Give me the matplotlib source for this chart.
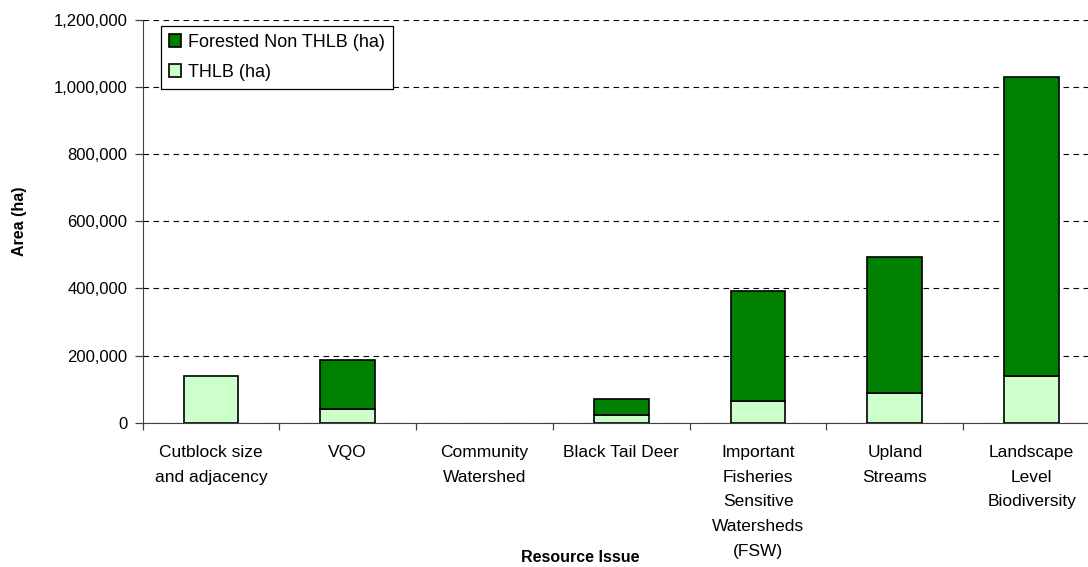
import matplotlib
matplotlib.use("Agg")
import matplotlib.pyplot as plt
import matplotlib.ticker as mticker
import matplotlib.transforms as mtransforms
from matplotlib.patches import Patch
import numpy as np

plt.rcParams["font.family"] = ["Liberation Sans", "DejaVu Sans"]

categories = [
    "Cutblock size\nand adjacency",
    "VQO",
    "Community\nWatershed",
    "Black Tail Deer",
    "Important\nFisheries\nSensitive\nWatersheds\n(FSW)",
    "Upland\nStreams",
    "Landscape\nLevel\nBiodiversity",
]
thlb = [140_000, 41_000, 0, 22_000, 65_000, 88_000, 138_000]
non_thlb = [0, 145_000, 0, 48_000, 327_000, 406_000, 892_000]

DARK_GREEN = "#008000"
LIGHT_GREEN = "#CCFFCC"

fig = plt.figure(figsize=(10.88, 5.67), dpi=100)
# plot area runs a little past the right edge of the figure
ax = fig.add_axes([0.131, 0.2545, 0.880, 0.711])

x = np.arange(len(categories))
# no outline on empty segments
thlb_lw = [1.2 if v > 0 else 0 for v in thlb]
non_lw = [1.2 if v > 0 else 0 for v in non_thlb]
ax.bar(x, thlb, width=0.4, color=LIGHT_GREEN, edgecolor="black",
       linewidth=thlb_lw, zorder=3)
ax.bar(x, non_thlb, width=0.4, bottom=thlb, color=DARK_GREEN,
       edgecolor="black", linewidth=non_lw, zorder=3)

ax.set_xlim(-0.5, len(categories) - 0.5)
ax.set_ylim(0, 1_200_000)
ax.yaxis.set_major_locator(mticker.MultipleLocator(200_000))
ax.yaxis.set_major_formatter(mticker.FuncFormatter(lambda v, p: f"{v:,.0f}"))

# boundary ticks between categories, labels centred under the bars
ax.set_xticks(np.arange(len(categories) + 1) - 0.5)
ax.set_xticklabels([])
ax.tick_params(axis="x", length=5, width=0.9, color="#404040")
trans = mtransforms.blended_transform_factory(ax.transData, ax.transAxes)
for xi, name in zip(x, categories):
    ax.text(xi, -0.056, name, transform=trans, ha="center", va="top",
            fontsize=12.5, linespacing=1.8)

ax.tick_params(axis="y", length=6, width=0.9, color="#404040",
               labelsize=12, pad=5)

ax.grid(axis="y", linestyle=(0, (5, 4)), color="black", linewidth=0.8,
        zorder=0)
ax.spines["top"].set_visible(False)
ax.spines["right"].set_visible(False)
ax.spines["left"].set_color("#404040")
ax.spines["bottom"].set_color("#404040")
ax.get_ygridlines()[-1].set_color("#909090")

handles = [
    Patch(facecolor=DARK_GREEN, edgecolor="black", linewidth=1.2,
          label="Forested Non THLB (ha)"),
    Patch(facecolor=LIGHT_GREEN, edgecolor="black", linewidth=1.2,
          label="THLB (ha)"),
]
leg = ax.legend(handles=handles, loc="upper left",
                bbox_to_anchor=(0.019, 0.984), borderaxespad=0,
                fancybox=False, edgecolor="black", framealpha=1,
                fontsize=13, handlelength=0.7, handleheight=0.7,
                handletextpad=0.35, labelspacing=0.7, borderpad=0.45)
leg.get_frame().set_linewidth(0.9)

fig.text(0.018, 1 - 221 / 567, "Area (ha)", rotation=90, fontsize=11.5,
         fontweight="bold", ha="center", va="center")
fig.text(580 / 1088, 1 - 557 / 567, "Resource Issue", fontsize=11.5,
         fontweight="bold", ha="center", va="center")

fig.savefig("out.png", dpi=100)
